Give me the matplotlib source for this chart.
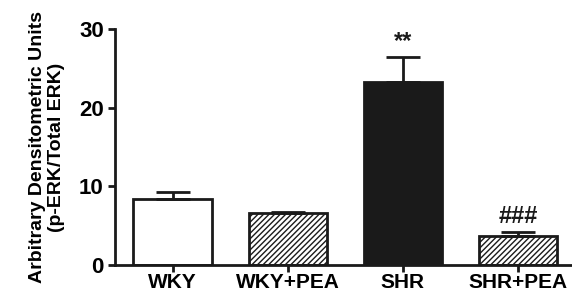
import numpy as np
import matplotlib
matplotlib.use("Agg")
import matplotlib.pyplot as plt

plt.rcParams['font.family'] = ['Liberation Sans', 'DejaVu Sans']
plt.rcParams['hatch.linewidth'] = 1.0

groups = ["WKY", "WKY+PEA", "SHR", "SHR+PEA"]
means = [8.4, 6.6, 23.3, 3.7]
sems = [0.85, 0.15, 3.2, 0.5]
colors = ["white", "white", "#1a1a1a", "white"]
hatches = ["", "//////", "", "//////"]
marks = ["", "", "**", "###"]

fig = plt.figure(figsize=(5.72, 2.94), dpi=100)
ax = fig.add_axes([0.201, 0.099, 0.799, 0.802])

x = np.arange(len(groups))
for i in range(len(groups)):
    ax.bar(x[i], means[i], width=0.68, color=colors[i], edgecolor="#1a1a1a",
           hatch=hatches[i], linewidth=2, zorder=2)
    ax.errorbar(x[i], means[i], yerr=[[0], [sems[i]]], fmt="none",
                ecolor="#1a1a1a", elinewidth=2, capsize=12, capthick=2, zorder=3)
    if marks[i]:
        ax.text(x[i], means[i] + sems[i] + 0.5, marks[i], ha="center", va="bottom",
                fontsize=17, fontweight="bold", color="#1a1a1a")

ax.set_xlim(-0.5, 3.47)
ax.set_ylim(0, 30)
ax.set_yticks([0, 10, 20, 30])
ax.set_xticks(x)
ax.set_xticklabels(groups)
for s in ["top", "right"]:
    ax.spines[s].set_visible(False)
for s in ["left", "bottom"]:
    ax.spines[s].set_linewidth(2)
    ax.spines[s].set_color("#1a1a1a")
ax.tick_params(width=2, length=5, labelsize=16, color="#1a1a1a", pad=3)
ax.tick_params(axis="x", labelsize=15, pad=1)
for lab in ax.get_xticklabels() + ax.get_yticklabels():
    lab.set_fontweight("bold")
ax.set_ylabel("Arbitrary Densitometric Units\n(p-ERK/Total ERK)", fontsize=14,
              fontweight="bold", linespacing=1.15, labelpad=10)

fig.savefig("out.png", dpi=100)
